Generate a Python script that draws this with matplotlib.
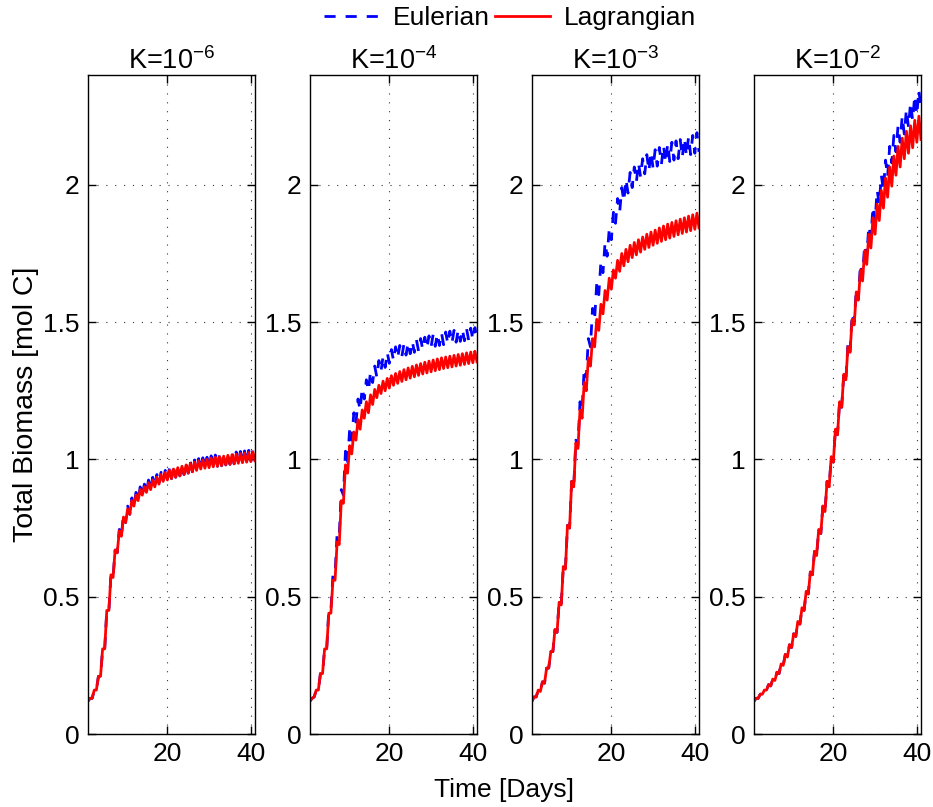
import numpy as np
import matplotlib
matplotlib.use('Agg')
import matplotlib.pyplot as plt

plt.rcParams['font.family'] = ['Liberation Sans', 'DejaVu Sans']
plt.rcParams['mathtext.fontset'] = 'custom'
plt.rcParams['mathtext.rm'] = 'Liberation Sans'
plt.rcParams['mathtext.it'] = 'Liberation Sans'

# days: value at dawn (trough) on each day, value at mid-day (peak) in between
days = np.arange(1, 42)
titles = ['K=10$^{-6}$', 'K=10$^{-4}$', 'K=10$^{-3}$', 'K=10$^{-2}$']
yticks = [0, 0.5, 1, 1.5, 2]
ytick_labels = ['0', '0.5', '1', '1.5', '2']
xticks = [20, 40]

# K=1e-6
lag_trough_k6 = [.12, .13, .16, .21, .31, .45, .57, .66, .72, .77, .80, .83, .85, .87, .88, .89, .90, .91, .92, .925,
                 .93, .935, .94, .945, .95, .955, .96, .965, .968, .97, .973, .975, .977, .98, .982, .984, .986, .988,
                 .99, .992, .995]
lag_peak_k6 = [.13, .16, .21, .31, .45, .58, .67, .74, .79, .82, .85, .87, .89, .90, .915, .925, .935, .945, .952, .96,
               .965, .97, .975, .98, .985, .99, .995, .998, 1.0, 1.005, 1.008, 1.01, 1.012, 1.015, 1.017, 1.019, 1.021,
               1.023, 1.025, 1.027]
eul_trough_k6 = [.12, .13, .16, .21, .31, .45, .57, .66, .72, .77, .80, .83, .85, .87, .88, .89, .90, .91, .92, .925,
                 .93, .935, .94, .945, .95, .955, .96, .965, .968, .97, .973, .975, .977, .98, .982, .984, .986, .988,
                 .99, .992, .995]
eul_peak_k6 = [.13, .16, .21, .31, .45, .58, .67, .745, .80, .83, .86, .88, .90, .91, .925, .935, .945, .953, .96, .968,
               .973, .978, .983, .988, .993, .998, 1.003, 1.006, 1.008, 1.013, 1.016, 1.018, 1.02, 1.023, 1.025, 1.027,
               1.029, 1.031, 1.033, 1.035]

# K=1e-4
lag_trough_k4 = [.12, .135, .16, .22, .31, .44, .56, .69, .84, .95, 1.02, 1.07, 1.11, 1.15, 1.17, 1.20, 1.225, 1.24,
                 1.25, 1.26, 1.27, 1.277, 1.284, 1.29, 1.296, 1.301, 1.306, 1.311, 1.315, 1.319, 1.323, 1.327, 1.331,
                 1.334, 1.337, 1.34, 1.343, 1.346, 1.349, 1.352, 1.355]
lag_peak_k4 = [.13, .16, .22, .31, .44, .56, .70, .85, .98, 1.05, 1.10, 1.145, 1.18, 1.21, 1.235, 1.255, 1.27, 1.285,
               1.295, 1.305, 1.313, 1.32, 1.327, 1.333, 1.339, 1.344, 1.349, 1.354, 1.358, 1.362, 1.366, 1.37, 1.373,
               1.376, 1.379, 1.382, 1.385, 1.388, 1.391, 1.394]
eul_trough_k4 = [.12, .135, .16, .22, .31, .45, .58, .72, .87, .99, 1.07, 1.13, 1.18, 1.22, 1.25, 1.28, 1.30, 1.32,
                 1.335, 1.35, 1.36, 1.37, 1.375, 1.38, 1.385, 1.39, 1.395, 1.40, 1.405, 1.41, 1.412, 1.415, 1.418,
                 1.421, 1.424, 1.427, 1.43, 1.432, 1.434, 1.436, 1.44]
eul_peak_k4 = [.13, .16, .22, .31, .45, .58, .73, .89, 1.03, 1.11, 1.17, 1.22, 1.26, 1.29, 1.32, 1.34, 1.36, 1.375,
               1.39, 1.40, 1.41, 1.415, 1.42, 1.425, 1.43, 1.435, 1.44, 1.445, 1.45, 1.455, 1.458, 1.461, 1.464, 1.467,
               1.47, 1.472, 1.474, 1.476, 1.478, 1.48]

# K=1e-3
lag_trough_k3 = [.12, .135, .155, .185, .24, .30, .37, .47, .60, .75, .90, 1.04, 1.15, 1.25, 1.34, 1.41, 1.47, 1.53,
                 1.58, 1.62, 1.66, 1.685, 1.705, 1.72, 1.735, 1.745, 1.755, 1.765, 1.772, 1.78, 1.787, 1.794, 1.80,
                 1.806, 1.812, 1.818, 1.823, 1.828, 1.833, 1.838, 1.843]
lag_peak_k3 = [.135, .16, .19, .24, .30, .38, .48, .61, .76, .92, 1.06, 1.18, 1.28, 1.37, 1.44, 1.51, 1.565, 1.615,
               1.66, 1.69, 1.725, 1.75, 1.765, 1.78, 1.79, 1.80, 1.81, 1.82, 1.828, 1.835, 1.843, 1.85, 1.857, 1.863,
               1.869, 1.875, 1.88, 1.886, 1.891, 1.897]
eul_trough_k3 = [.12, .135, .155, .185, .24, .30, .37, .47, .60, .75, .90, 1.05, 1.18, 1.30, 1.41, 1.51, 1.60, 1.68,
                 1.74, 1.80, 1.86, 1.90, 1.94, 1.97, 1.99, 2.01, 2.03, 2.04, 2.05, 2.06, 2.068, 2.075, 2.08, 2.085,
                 2.09, 2.095, 2.10, 2.105, 2.11, 2.115, 2.12]
eul_peak_k3 = [.135, .16, .19, .24, .30, .38, .48, .61, .76, .92, 1.07, 1.21, 1.33, 1.44, 1.55, 1.64, 1.72, 1.79, 1.84,
               1.90, 1.95, 1.99, 2.02, 2.045, 2.065, 2.08, 2.095, 2.11, 2.12, 2.128, 2.136, 2.143, 2.15, 2.155, 2.16,
               2.165, 2.17, 2.175, 2.18, 2.19]

# K=1e-2
lag_trough_k2 = [.12, .13, .145, .16, .175, .195, .22, .25, .28, .315, .355, .40, .45, .51, .58, .65, .73, .81, .90,
                 .99, 1.09, 1.19, 1.29, 1.39, 1.49, 1.58, 1.65, 1.71, 1.77, 1.82, 1.87, 1.915, 1.955, 1.995, 2.035,
                 2.065, 2.095, 2.115, 2.135, 2.155, 2.165]
lag_peak_k2 = [.13, .145, .16, .18, .20, .225, .255, .29, .325, .365, .41, .46, .52, .59, .665, .745, .83, .92, 1.01,
               1.11, 1.21, 1.31, 1.41, 1.51, 1.61, 1.69, 1.76, 1.82, 1.88, 1.93, 1.98, 2.025, 2.065, 2.105, 2.14, 2.17,
               2.195, 2.215, 2.235, 2.25]
eul_trough_k2 = [.12, .13, .145, .16, .175, .195, .22, .25, .28, .315, .355, .40, .45, .51, .58, .65, .73, .81, .90,
                 .99, 1.09, 1.19, 1.29, 1.39, 1.50, 1.59, 1.67, 1.74, 1.81, 1.87, 1.93, 1.98, 2.03, 2.08, 2.12, 2.155,
                 2.185, 2.21, 2.235, 2.255, 2.27]
eul_peak_k2 = [.13, .145, .16, .18, .20, .225, .255, .29, .325, .365, .41, .46, .52, .59, .665, .745, .83, .92, 1.01,
               1.11, 1.21, 1.31, 1.42, 1.53, 1.62, 1.71, 1.78, 1.85, 1.92, 1.98, 2.035, 2.09, 2.14, 2.18, 2.215, 2.25,
               2.275, 2.30, 2.325, 2.345]

panels = [(eul_trough_k6, eul_peak_k6, lag_trough_k6, lag_peak_k6),
          (eul_trough_k4, eul_peak_k4, lag_trough_k4, lag_peak_k4),
          (eul_trough_k3, eul_peak_k3, lag_trough_k3, lag_peak_k3),
          (eul_trough_k2, eul_peak_k2, lag_trough_k2, lag_peak_k2)]


def zigzag(trough, peak):
    # dawn values on whole days, mid-day values half a day later
    x = np.empty(2 * len(days) - 1)
    y = np.empty(2 * len(days) - 1)
    x[0::2] = days
    x[1::2] = days[:-1] + 0.5
    y[0::2] = trough
    y[1::2] = peak
    return x, y


W, H = 933, 807
fig = plt.figure(figsize=(W / 100, H / 100), dpi=100)
lefts = [88, 310, 532, 754]
ax_w, ax_top, ax_bot = 167, 75, 734
fs = 19

for i, (et, ep, lt, lp) in enumerate(panels):
    ax = fig.add_axes([lefts[i] / W, (H - ax_bot) / H, ax_w / W, (ax_bot - ax_top) / H])
    xe, ye = zigzag(et, ep)
    xl, yl = zigzag(lt, lp)
    le, = ax.plot(xe, ye, color='#0000ff', lw=2, ls=(0, (4, 3.5)), label='Eulerian')
    ll, = ax.plot(xl, yl, color='#ff0000', lw=2, label='Lagrangian')
    ax.set_xlim(1, 41)
    ax.set_ylim(0, 2.4)
    ax.set_xticks(xticks)
    ax.set_yticks(yticks)
    ax.set_yticklabels(ytick_labels)
    ax.grid(True, color='#333333', ls=(0, (1, 7)), lw=0.8)
    ax.tick_params(direction='in', length=6, width=1, top=True, right=True, labelsize=fs, pad=6)
    ax.set_title(titles[i], fontsize=19.5, pad=4)
    for s in ax.spines.values():
        s.set_linewidth(1)
    if i == 0:
        ax.set_ylabel('Total Biomass [mol C]', fontsize=20.5, labelpad=3)

fig.text(504 / W, 1 - 790 / H, 'Time [Days]', ha='center', va='center', fontsize=19)
le_h = plt.Line2D([], [], color='#0000ff', lw=2, ls=(0, (4, 3.6)))
fig.legend([le_h, ll], ['Eulerian', 'Lagrangian'], loc='center', bbox_to_anchor=(510 / W, 1 - 18 / H), ncol=2,
           frameon=False, fontsize=fs, handlelength=2.1, handletextpad=0.5, columnspacing=0.2,
           borderpad=0.1)

plt.savefig('out.png', dpi=100)
